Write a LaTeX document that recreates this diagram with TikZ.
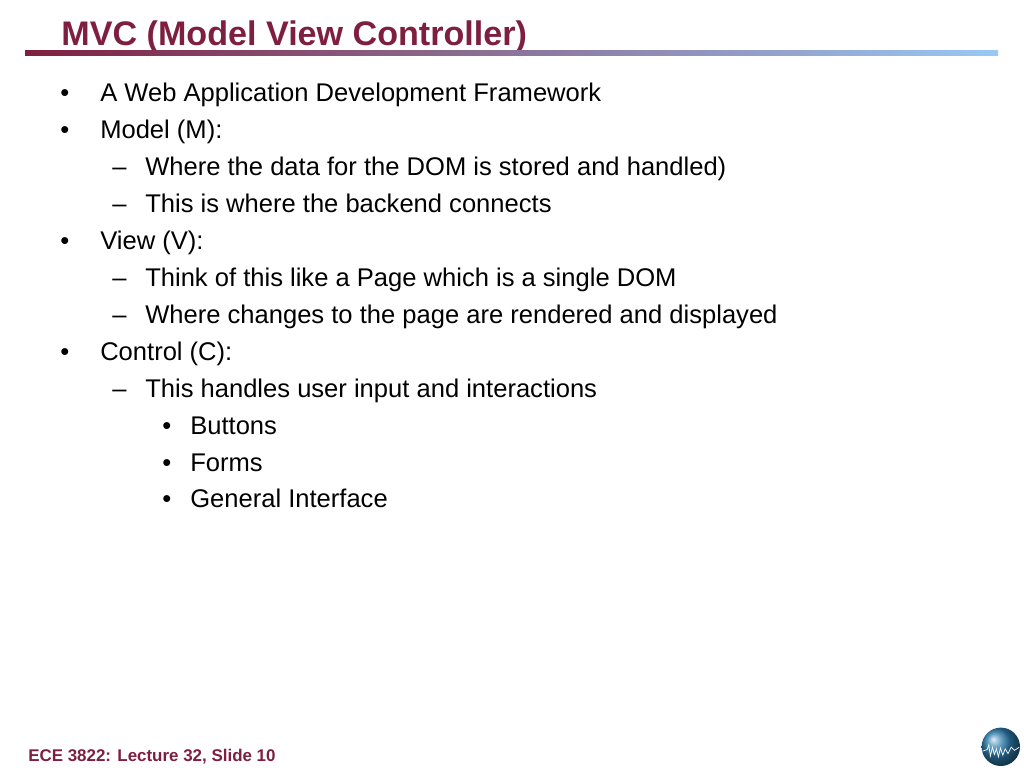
\documentclass[tikz,border=0pt]{standalone}
\usepackage{fontspec}
\setmainfont{Liberation Sans}
\usepackage{tikz}
\usetikzlibrary{positioning,shadings}

\definecolor{slidered}{HTML}{7F1F3F}
\definecolor{slideblue}{HTML}{99C9F5}
\definecolor{globeblue}{HTML}{2F7FAF}

\tikzset{
  titletext/.style={anchor=base west,inner sep=0pt,text=slidered,font=\fontsize{24.26pt}{30pt}\selectfont\bfseries},
  foottext/.style={anchor=base west,inner sep=0pt,text=slidered,font=\fontsize{12.05pt}{15pt}\selectfont\bfseries},
  bodytext/.style={anchor=base west,inner sep=0pt,font=\fontsize{18.18pt}{22pt}\selectfont}
}

\begin{document}
\begin{tikzpicture}

\useasboundingbox (0,0) rectangle (25.6,-19.2);

\node[titletext] (title) at (1.53,-1.15) {MVC (Model View Controller)};
\shade[left color=slidered,right color=slideblue] (0.625,-1.275) rectangle (24.95,-1.4);

\node[bodytext] (b1) at (1.5,-2.55) {•};
\node[bodytext] (b2) at (1.5,-3.4725) {•};
\node[bodytext] (b3) at (1.5,-6.24) {•};
\node[bodytext] (b4) at (1.5,-9.0075) {•};

\node[bodytext] (web) at (2.5,-2.55) {A Web Application Development Framework};
\node[bodytext] (model) at (2.5,-3.4725) {Model (M):};
\node[bodytext] (view) at (2.5,-6.24) {View (V):};
\node[bodytext] (control) at (2.5,-9.0075) {Control (C):};

\node[bodytext] (d1) at (2.8,-4.395) {–};
\node[bodytext] (d2) at (2.8,-5.3175) {–};
\node[bodytext] (d3) at (2.8,-7.1625) {–};
\node[bodytext] (d4) at (2.8,-8.085) {–};
\node[bodytext] (d5) at (2.8,-9.93) {–};

\node[bodytext] (stored) at (3.625,-4.395) {Where the data for the DOM is stored and handled)};
\node[bodytext] (backend) at (3.625,-5.3175) {This is where the backend connects};
\node[bodytext] (page) at (3.625,-7.1625) {Think of this like a Page which is a single DOM};
\node[bodytext] (rendered) at (3.625,-8.085) {Where changes to the page are rendered and displayed};
\node[bodytext] (input) at (3.625,-9.93) {This handles user input and interactions};

\node[bodytext] (s1) at (4.05,-10.8525) {•};
\node[bodytext] (s2) at (4.05,-11.775) {•};
\node[bodytext] (s3) at (4.05,-12.6975) {•};

\node[bodytext] (buttons) at (4.75,-10.8525) {Buttons};
\node[bodytext] (forms) at (4.75,-11.775) {Forms};
\node[bodytext] (general) at (4.75,-12.6975) {General Interface};

\node[foottext] (foot) at (0.7,-19.03) {ECE 3822: Lecture 32, Slide 10};

\shade[ball color=globeblue] (25.02,-18.67) circle (0.48);
\draw[white,line width=0.5pt] (24.56,-18.78) -- (24.68,-18.74) -- (24.72,-18.62) -- (24.76,-18.9) -- (24.81,-18.68) -- (24.86,-18.86) -- (24.91,-18.72) -- (24.96,-18.92) -- (25.01,-18.7) -- (25.07,-18.88) -- (25.13,-18.72) -- (25.2,-18.84) -- (25.28,-18.68) -- (25.36,-18.76) -- (25.48,-18.68);

\end{tikzpicture}
\end{document}
